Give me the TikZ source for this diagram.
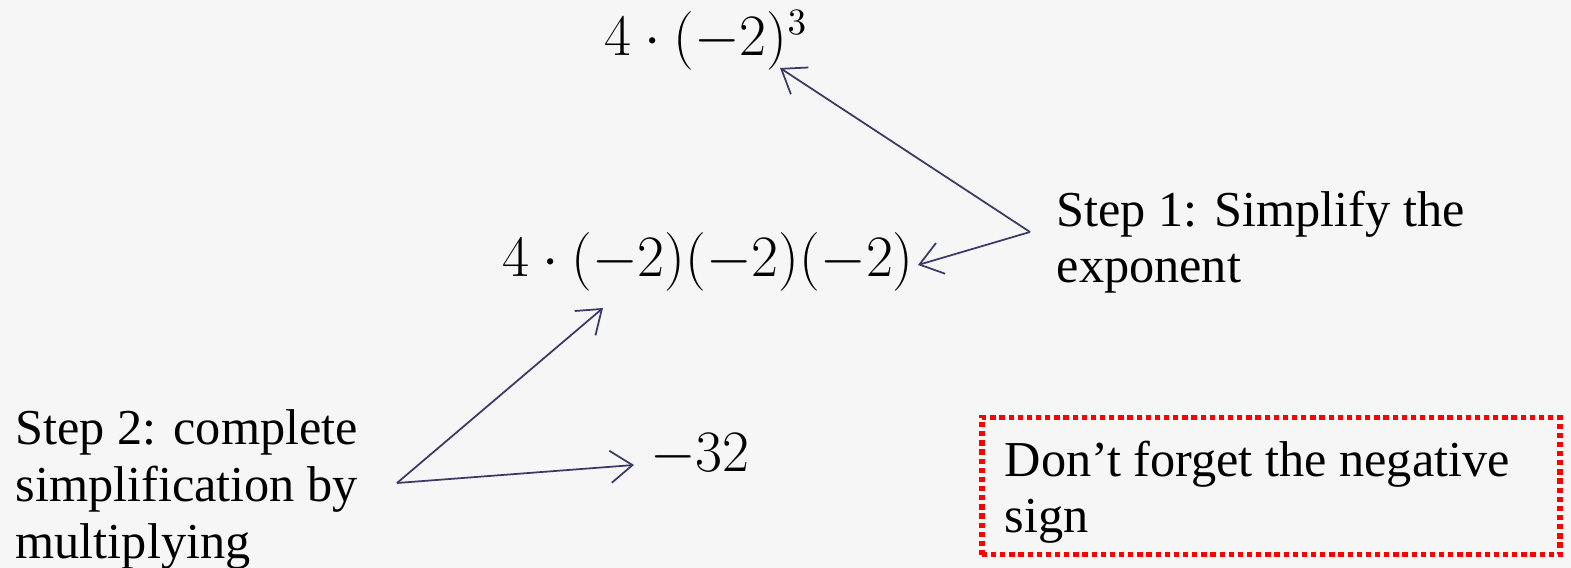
\documentclass[tikz,border=0pt]{standalone}
\usepackage{fontspec}
\setmainfont{Liberation Serif}
\usetikzlibrary{arrows.meta, positioning}
\definecolor{slidebg}{HTML}{F6F6F6}
\definecolor{arrowblue}{HTML}{3A3A68}
\definecolor{warnred}{HTML}{FF0000}

\begin{document}
\begin{tikzpicture}[
    x=0.01cm, y=-0.01cm,
    expr/.style={inner sep=0pt, scale=0.965, transform shape, font=\fontsize{16}{19}\selectfont},
    note/.style={inner sep=0pt, align=left, font=\fontsize{14.3}{16}\selectfont},
    warnbox/.style={draw=warnred, line width=1.6pt, dash pattern=on 1.5pt off 1.1pt,
        minimum width=5.78cm, minimum height=1.37cm},
    pointer/.style={draw=arrowblue, line width=0.5pt, -{Straight Barb[length=2.2mm, width=3.2mm]}}
]

% slide background
\useasboundingbox (0,0) rectangle (1571,568);
\fill[slidebg] (0,0) rectangle (1571,568);

% expressions down the middle
\node[expr] (power) at (706,40) {$4\cdot(-2)^3$};
\node[expr] (expand) at (708,262) {$4\cdot(-2)(-2)(-2)$};
\node[expr] (result) at (700,455) {$-32$};

% step notes
\node[note, anchor=north west] (step1) at (1056,190) {Step 1: Simplify the\\exponent};
\node[note, anchor=north west, font=\fontsize{14.3}{16.2}\selectfont] (step2) at (15,409) {Step 2: complete\\simplification by\\multiplying};

% reminder box
\node[warnbox] (warn) at (1271,486) {};
\node[note, anchor=north west] (warntext) at (1004,440) {Don’t forget the negative\\sign};

% arrow corners and tips
\coordinate (s1) at (1030,232);
\coordinate (s2) at (397,483);
\coordinate (tip1) at (780,68);
\coordinate (tip2) at (918,265);
\coordinate (tip3) at (603,308);
\coordinate (tip4) at (634,465);

% arrows
\draw[pointer] (s1) -- (tip1);
\draw[pointer] (s1) -- (tip2);
\draw[pointer] (s2) -- (tip3);
\draw[pointer] (s2) -- (tip4);

\end{tikzpicture}
\end{document}
